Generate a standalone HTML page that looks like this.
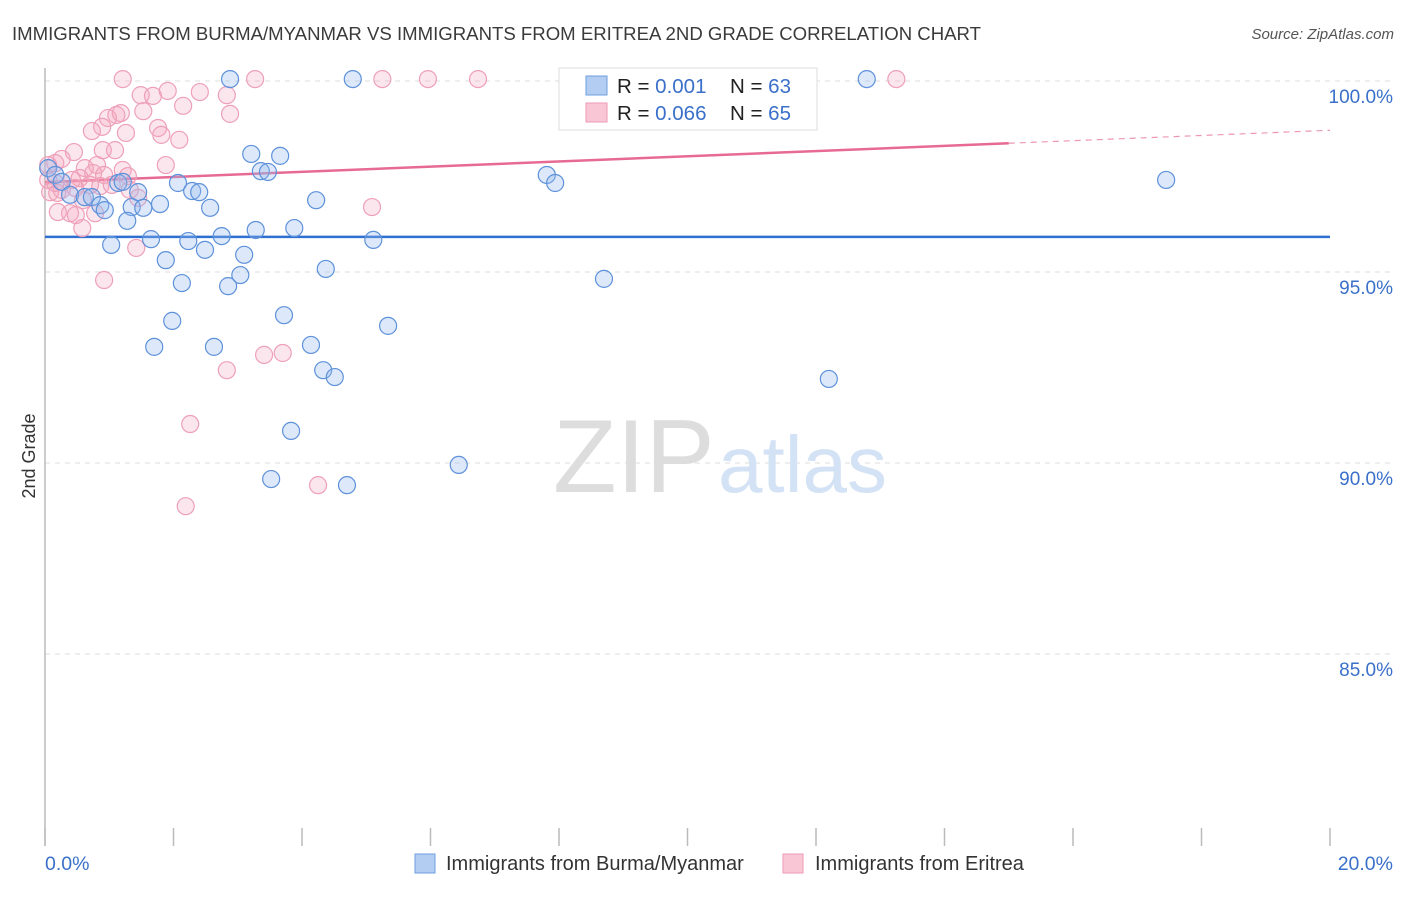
<!DOCTYPE html>
<html><head><meta charset="utf-8"><style>
body{margin:0;background:#fff;font-family:"Liberation Sans",sans-serif;}
svg text{font-family:"Liberation Sans",sans-serif;}
</style></head><body>
<svg id="chart" width="1406" height="892">
<text x="12" y="40" font-size="18.6" fill="#3a3a3a">IMMIGRANTS FROM BURMA/MYANMAR VS IMMIGRANTS FROM ERITREA 2ND GRADE CORRELATION CHART</text>
<text x="1394" y="39" font-size="15" fill="#555" font-style="italic" text-anchor="end">Source: ZipAtlas.com</text>
<g id="grid"></g>
<line x1="45" y1="68" x2="45" y2="846" stroke="#bbb" stroke-width="1.5"/>
<text x="35" y="456" font-size="18" fill="#333" text-anchor="middle" transform="rotate(-90 35 456)">2nd Grade</text>
<text x="553" y="492" font-size="104" fill="#ddd" font-family="Liberation Serif">ZIP</text>
<text x="718" y="492" font-size="80" fill="#d3e2f4">atlas</text>
<g id="lines"></g>
<g id="points"></g>
<g>
<rect x="559" y="68" width="258" height="62" fill="#fff" stroke="#ddd"/>
<rect x="586" y="76" width="21" height="19" fill="#b3cdf2" stroke="#6e9ee0"/>
<rect x="586" y="103" width="21" height="19" fill="#f9c6d5" stroke="#ee9ab5"/>
<text x="617" y="93" font-size="20.5" fill="#222">R = <tspan fill="#3a70c9">0.001</tspan></text>
<text x="730" y="93" font-size="20.5" fill="#222">N = <tspan fill="#3a70c9">63</tspan></text>
<text x="617" y="120" font-size="20.5" fill="#222">R = <tspan fill="#3a70c9">0.066</tspan></text>
<text x="730" y="120" font-size="20.5" fill="#222">N = <tspan fill="#3a70c9">65</tspan></text>
</g>
<text x="45" y="870" font-size="19.5" fill="#3a70c9">0.0%</text>
<text x="1393" y="870" font-size="19.5" fill="#3a70c9" text-anchor="end">20.0%</text>
<g><rect x="415" y="854" width="20" height="19" fill="#b3cdf2" stroke="#6e9ee0"/><text x="446" y="870" font-size="20" fill="#333">Immigrants from Burma/Myanmar</text></g>
<g><rect x="783" y="854" width="20" height="19" fill="#f9c6d5" stroke="#ee9ab5"/><text x="815" y="870" font-size="20" fill="#333">Immigrants from Eritrea</text></g>
</svg>
<script>
const yTicks=[100,95,90,85];
const xTicks=[0,2,4,6,8,10,12,14,16,18,20];
const blueX=[2.88,4.79,12.79,9.95,11.16,3.21,3.66,3.36,3.47,7.81,7.94,17.45,0.05,0.16,0.26,0.39,0.62,0.73,0.86,0.93,1.14,1.21,1.45,1.35,1.53,1.28,1.79,2.07,2.29,2.40,2.57,4.22,1.65,1.03,2.23,2.49,2.75,3.28,3.88,5.11,1.88,3.10,2.13,3.04,2.85,4.37,8.70,3.72,1.98,5.34,1.70,2.63,4.14,4.33,4.51,12.20,3.83,6.44,3.52,4.70];
const blueY=[100.05,100.05,100.05,100.05,98.98,98.09,98.04,97.64,97.62,97.54,97.33,97.41,97.72,97.54,97.36,97.02,96.96,96.96,96.75,96.62,97.33,97.36,97.09,96.70,96.68,96.34,96.78,97.33,97.12,97.09,96.68,96.88,95.86,95.71,95.81,95.58,95.94,96.10,96.15,95.84,95.31,95.45,94.71,94.92,94.63,95.08,94.82,93.87,93.72,93.59,93.04,93.04,93.09,92.43,92.25,92.20,90.84,89.95,89.58,89.42];
const pinkX=[1.21,3.27,5.25,5.96,6.74,13.25,1.49,1.68,1.91,2.41,2.83,2.15,1.53,1.11,0.98,1.18,2.88,0.89,0.73,1.26,1.76,1.81,2.09,0.90,1.09,0.45,0.26,0.16,0.05,0.81,0.62,0.75,0.92,1.21,1.88,1.29,0.54,0.86,1.04,0.70,0.26,0.08,0.19,1.45,0.59,0.39,0.20,0.48,0.78,0.58,1.42,0.92,5.09,2.83,3.41,3.70,2.26,4.25,2.19,0.05,0.16,0.47,0.42,1.32];
const pinkY=[100.05,100.05,100.05,100.05,100.05,100.05,99.63,99.61,99.74,99.71,99.63,99.35,99.21,99.11,99.03,99.16,99.14,98.80,98.69,98.64,98.77,98.59,98.46,98.19,98.19,98.14,97.96,97.85,97.80,97.80,97.72,97.59,97.54,97.67,97.80,97.51,97.46,97.25,97.28,97.28,97.15,97.09,97.07,96.94,96.88,96.54,96.57,96.49,96.54,96.15,95.63,94.79,96.70,92.43,92.83,92.88,91.02,89.42,88.87,97.41,97.33,97.20,97.41,97.15];
const blueFit=[95.92,0];
const pinkFit=[97.35,0.068];
const pinkSolidEnd=15;
const NS='http://www.w3.org/2000/svg';
const sx=v=>45+v*64.25;
const sy=v=>81+(100-v)*38.2;
function mk(tag,attrs,parent){const e=document.createElementNS(NS,tag);for(const k in attrs)e.setAttribute(k,attrs[k]);parent.appendChild(e);return e;}
const grid=document.getElementById('grid');
yTicks.forEach(t=>{
 const l=mk('line',{x1:45,x2:1393,y1:sy(t),y2:sy(t),stroke:'#ddd','stroke-dasharray':'5,5'},grid);
 
 
 const tx=mk('text',{x:1393,y:sy(t)+22,'font-size':19,fill:'#3a70c9','text-anchor':'end'},grid);
 tx.textContent=t.toFixed(1)+'%';
 
 
});
xTicks.forEach(t=>{
 const l=mk('line',{x1:sx(t),x2:sx(t),y1:828,y2:846,stroke:'#bbb','stroke-width':1.5},grid);
 
 
});
const pts=document.getElementById('points');
pinkX.forEach((x,i)=>{
 const c=mk('circle',{cx:sx(x),cy:sy(pinkY[i]),r:8.5,fill:'rgba(245,165,192,0.28)',stroke:'#eea0b9','stroke-width':1.2},pts);
 
 
});
blueX.forEach((x,i)=>{
 const c=mk('circle',{cx:sx(x),cy:sy(blueY[i]),r:8.5,fill:'rgba(150,188,238,0.32)',stroke:'#5d91da','stroke-width':1.2},pts);
 
 
});
const lg=document.getElementById('lines');
const bl=mk('line',{x1:sx(0),x2:sx(20),y1:sy(blueFit[0]),y2:sy(blueFit[0]+blueFit[1]*20),stroke:'#2f6fd0','stroke-width':2.5},lg);


const pl=mk('line',{x1:sx(0),x2:sx(pinkSolidEnd),y1:sy(pinkFit[0]),y2:sy(pinkFit[0]+pinkFit[1]*pinkSolidEnd),stroke:'#e66a93','stroke-width':2.5},lg);


const pd=mk('line',{x1:sx(pinkSolidEnd),x2:sx(20),y1:sy(pinkFit[0]+pinkFit[1]*pinkSolidEnd),y2:sy(pinkFit[0]+pinkFit[1]*20),stroke:'#e66a93','stroke-width':1.2,'stroke-dasharray':'6,5',opacity:0.7},lg);


</script>
</body></html>
